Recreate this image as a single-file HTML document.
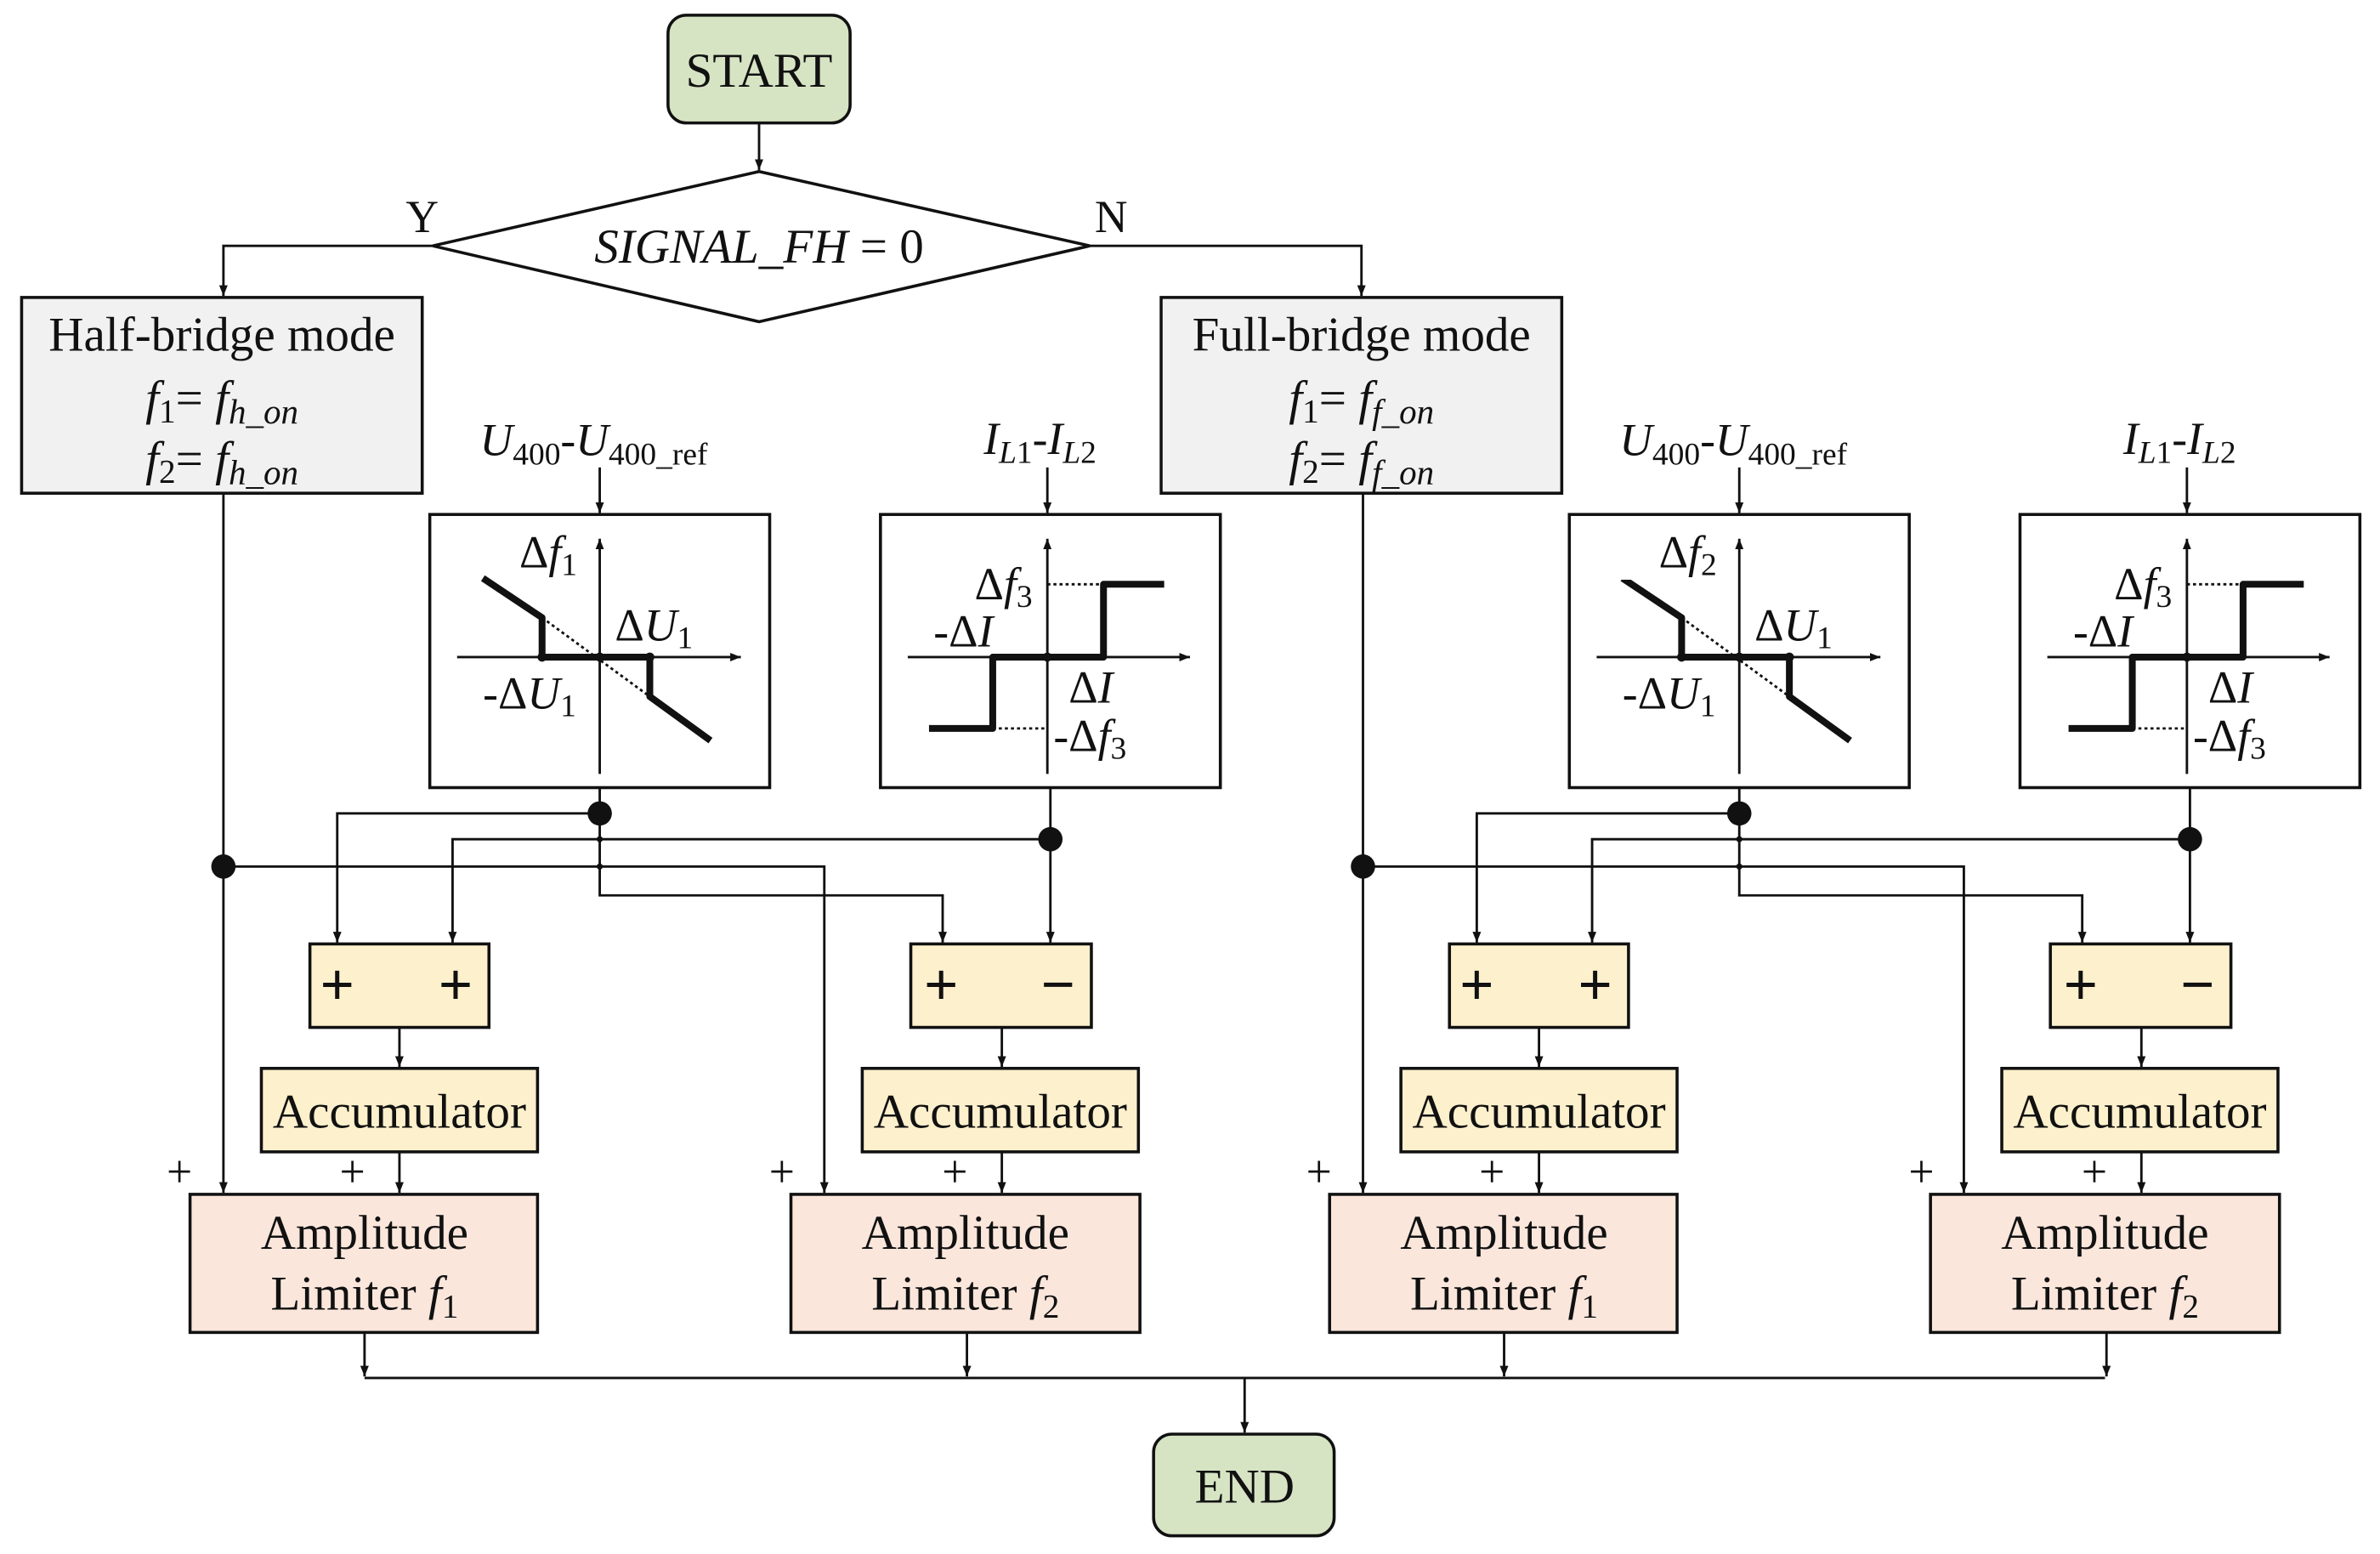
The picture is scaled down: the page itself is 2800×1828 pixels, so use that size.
<!DOCTYPE html>
<html><head><meta charset="utf-8"><style>
html,body{margin:0;padding:0;background:#fff}
svg{display:block}
text{font-family:"Liberation Serif",serif;fill:#111}
.i{font-style:italic}
</style></head><body>
<svg width="2800" height="1828" viewBox="0 0 1568 1024" xmlns="http://www.w3.org/2000/svg">
<defs>
<marker id="a" viewBox="0 0 10 10" refX="10" refY="5" markerWidth="7" markerHeight="7" orient="auto" markerUnits="userSpaceOnUse"><path d="M0,1 L10,5 L0,9 z" fill="#111"/></marker>
</defs>
<g stroke="#111" stroke-width="1.6" fill="none">
<rect x="440" y="10" width="120" height="71" rx="12" fill="#d7e4c4" stroke-width="2"/>
<line x1="500" y1="81" x2="500" y2="112" marker-end="url(#a)"/>
<polygon points="500,113 718,162 500,212 285,162" fill="#fff" stroke-width="2"/>
<polyline points="285,162 147,162 147,195" marker-end="url(#a)"/>
<polyline points="718,162 897,162 897,195" marker-end="url(#a)"/>
<rect x="760" y="945" width="119" height="67" rx="12" fill="#d7e4c4" stroke-width="2"/>
<line x1="240" y1="908" x2="1387" y2="908"/>
<line x1="820" y1="908" x2="820" y2="944" marker-end="url(#a)"/>
</g>
<text x="500" y="57" font-size="32" text-anchor="middle">START</text>
<text x="820" y="990" font-size="32" text-anchor="middle">END</text>
<text x="500" y="173" font-size="32" text-anchor="middle" class="i">SIGNAL_FH<tspan font-style="normal"> = 0</tspan></text>
<text x="278" y="153" font-size="30" text-anchor="middle">Y</text>
<text x="732" y="153" font-size="30" text-anchor="middle">N</text>

<g id="half">
<g stroke="#111" stroke-width="1.6" fill="none">
<rect x="14" y="196" width="264" height="129" fill="#f1f1f1" stroke-width="2"/>
<rect x="283" y="339" width="224" height="180" fill="#fff" stroke-width="2"/>
<rect x="580" y="339" width="224" height="180" fill="#fff" stroke-width="2"/>
<line x1="395" y1="308" x2="395" y2="338" marker-end="url(#a)"/>
<line x1="690" y1="308" x2="690" y2="338" marker-end="url(#a)"/>
<line x1="301" y1="433" x2="488" y2="433" marker-end="url(#a)"/>
<line x1="395" y1="510" x2="395" y2="355" marker-end="url(#a)"/>
<polyline points="318,381 357,407 357,433 428,433 428,459 468,488" stroke-width="4.5" stroke-linejoin="round"/>
<line x1="357" y1="407" x2="428" y2="459" stroke-dasharray="2,2"/>
<line x1="598" y1="433" x2="784" y2="433" marker-end="url(#a)"/>
<line x1="690" y1="510" x2="690" y2="355" marker-end="url(#a)"/>
<polyline points="612,480 654,480 654,433 727,433 727,385 767,385" stroke-width="4.5" stroke-linejoin="round"/>
<line x1="690" y1="385" x2="727" y2="385" stroke-dasharray="2,2"/>
<line x1="654" y1="480" x2="690" y2="480" stroke-dasharray="2,2"/>
<line x1="147" y1="325" x2="147" y2="786" marker-end="url(#a)"/>
<polyline points="147,571 543,571 543,786" marker-end="url(#a)"/>
<polyline points="395,519 395,590 621,590 621,621" marker-end="url(#a)"/>
<polyline points="395,536 222,536 222,621" marker-end="url(#a)"/>
<polyline points="692,519 692,621" marker-end="url(#a)"/>
<polyline points="692,553 298,553 298,621" marker-end="url(#a)"/>
<rect x="204" y="622" width="118" height="55" fill="#fdf0cc" stroke-width="2"/>
<rect x="600" y="622" width="119" height="55" fill="#fdf0cc" stroke-width="2"/>
<line x1="263" y1="677" x2="263" y2="703" marker-end="url(#a)"/>
<line x1="660" y1="677" x2="660" y2="703" marker-end="url(#a)"/>
<rect x="172" y="704" width="182" height="55" fill="#fdf0cc" stroke-width="2"/>
<rect x="568" y="704" width="182" height="55" fill="#fdf0cc" stroke-width="2"/>
<line x1="263" y1="759" x2="263" y2="786" marker-end="url(#a)"/>
<line x1="660" y1="759" x2="660" y2="786" marker-end="url(#a)"/>
<rect x="125" y="787" width="229" height="91" fill="#fbe6dc" stroke-width="2"/>
<rect x="521" y="787" width="230" height="91" fill="#fbe6dc" stroke-width="2"/>
<line x1="240" y1="878" x2="240" y2="907" marker-end="url(#a)"/>
<line x1="637" y1="878" x2="637" y2="907" marker-end="url(#a)"/>
</g>
<g fill="#111">
<circle cx="395" cy="536" r="8"/><circle cx="692" cy="553" r="8"/><circle cx="147" cy="571" r="8"/>
<circle cx="395" cy="553" r="2"/><circle cx="395" cy="571" r="2"/>
<circle cx="357" cy="433" r="3"/><circle cx="428" cy="433" r="3"/><circle cx="395" cy="433" r="3"/><circle cx="690" cy="433" r="3"/>
</g>
<text x="222" y="662" font-size="40" text-anchor="middle" font-weight="bold">+</text>
<text x="300" y="662" font-size="40" text-anchor="middle" font-weight="bold">+</text>
<text x="620" y="662" font-size="40" text-anchor="middle" font-weight="bold">+</text>
<text x="697" y="662" font-size="40" text-anchor="middle" font-weight="bold">−</text>
<text x="263" y="743" font-size="32" text-anchor="middle">Accumulator</text>
<text x="659" y="743" font-size="32" text-anchor="middle">Accumulator</text>
<text x="240" y="823" font-size="32" text-anchor="middle">Amplitude</text>
<text x="636" y="823" font-size="32" text-anchor="middle">Amplitude</text>
<text x="118" y="782" font-size="30" text-anchor="middle">+</text>
<text x="232" y="782" font-size="30" text-anchor="middle">+</text>
<text x="515" y="782" font-size="30" text-anchor="middle">+</text>
<text x="629" y="782" font-size="30" text-anchor="middle">+</text>
<text x="316" y="300" font-size="30" class="i">U<tspan font-style="normal" font-size="21" dy="6">400</tspan><tspan font-style="normal" dy="-6">-</tspan>U<tspan font-style="normal" font-size="21" dy="6">400_ref</tspan></text>
<text x="648" y="299" font-size="30" class="i">I<tspan font-size="21" dy="6">L</tspan><tspan font-style="normal" font-size="21">1</tspan><tspan font-style="normal" dy="-6">-</tspan>I<tspan font-size="21" dy="6">L</tspan><tspan font-style="normal" font-size="21">2</tspan></text>
<text x="405" y="422" font-size="30">Δ<tspan class="i">U</tspan><tspan font-size="21" dy="5">1</tspan></text>
<text x="318" y="467" font-size="30">-Δ<tspan class="i">U</tspan><tspan font-size="21" dy="5">1</tspan></text>
<text x="642" y="395" font-size="30">Δ<tspan class="i">f</tspan><tspan font-size="21" dy="5">3</tspan></text>
<text x="615" y="426" font-size="30">-Δ<tspan class="i">I</tspan></text>
<text x="704" y="463" font-size="30">Δ<tspan class="i">I</tspan></text>
<text x="694" y="495" font-size="30">-Δ<tspan class="i">f</tspan><tspan font-size="21" dy="5">3</tspan></text>
</g>
<text x="146" y="231" font-size="32" text-anchor="middle">Half-bridge mode</text>
<text x="146" y="273" font-size="32" text-anchor="middle"><tspan class="i">f</tspan><tspan font-size="22" dy="5">1</tspan><tspan dy="-5">= </tspan><tspan class="i">f</tspan><tspan class="i" font-size="23" dy="6">h_on</tspan></text>
<text x="146" y="313" font-size="32" text-anchor="middle"><tspan class="i">f</tspan><tspan font-size="22" dy="5">2</tspan><tspan dy="-5">= </tspan><tspan class="i">f</tspan><tspan class="i" font-size="23" dy="6">h_on</tspan></text>
<text x="342" y="374" font-size="30">Δ<tspan class="i">f</tspan><tspan font-size="21" dy="5">1</tspan></text>
<text x="240" y="863" font-size="32" text-anchor="middle">Limiter <tspan class="i">f</tspan><tspan font-size="22" dy="5">1</tspan></text>
<text x="636" y="863" font-size="32" text-anchor="middle">Limiter <tspan class="i">f</tspan><tspan font-size="22" dy="5">2</tspan></text>

<use href="#half" transform="translate(751,0)"/>
<rect x="766" y="198" width="261" height="125" fill="#f1f1f1"/>
<rect x="1037" y="342" width="60" height="40" fill="#fff"/>
<rect x="878" y="828" width="224" height="48" fill="#fbe6dc"/>
<rect x="1274" y="828" width="225" height="48" fill="#fbe6dc"/>
<text x="897" y="231" font-size="32" text-anchor="middle">Full-bridge mode</text>
<text x="897" y="273" font-size="32" text-anchor="middle"><tspan class="i">f</tspan><tspan font-size="22" dy="5">1</tspan><tspan dy="-5">= </tspan><tspan class="i">f</tspan><tspan class="i" font-size="23" dy="6">f_on</tspan></text>
<text x="897" y="313" font-size="32" text-anchor="middle"><tspan class="i">f</tspan><tspan font-size="22" dy="5">2</tspan><tspan dy="-5">= </tspan><tspan class="i">f</tspan><tspan class="i" font-size="23" dy="6">f_on</tspan></text>
<text x="1093" y="374" font-size="30">Δ<tspan class="i">f</tspan><tspan font-size="21" dy="5">2</tspan></text>
<text x="991" y="863" font-size="32" text-anchor="middle">Limiter <tspan class="i">f</tspan><tspan font-size="22" dy="5">1</tspan></text>
<text x="1387" y="863" font-size="32" text-anchor="middle">Limiter <tspan class="i">f</tspan><tspan font-size="22" dy="5">2</tspan></text>
</svg>
</body></html>
